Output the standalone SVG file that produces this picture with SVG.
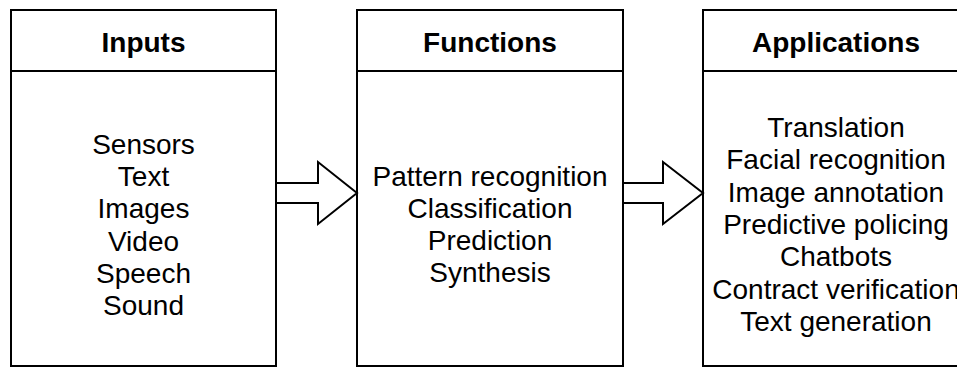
<svg xmlns="http://www.w3.org/2000/svg" width="957" height="377" viewBox="0 0 957 377">
<style>
.box{fill:#fff;stroke:#000;stroke-width:2}
.sep{stroke:#000;stroke-width:2}
.arr{fill:#fff;stroke:#000;stroke-width:2;stroke-linejoin:miter}
.hd{font-family:"Liberation Sans",Arial,Helvetica,sans-serif;font-size:28px;font-weight:bold;fill:#000;text-anchor:middle}
.tx{font-family:"Liberation Sans",Arial,Helvetica,sans-serif;font-size:28px;fill:#000;text-anchor:middle}
</style>
<rect width="957" height="377" fill="#fff"/>
<g id="inputs">
<rect class="box" x="11" y="10" width="265" height="356"/>
<line class="sep" x1="11" y1="71" x2="276" y2="71"/>
<text class="hd" x="143.5" y="52">Inputs</text>
<text class="tx" x="143.5" y="153.5">Sensors</text>
<text class="tx" x="143.5" y="186">Text</text>
<text class="tx" x="143.5" y="218.3">Images</text>
<text class="tx" x="143.5" y="250.6">Video</text>
<text class="tx" x="143.5" y="282.9">Speech</text>
<text class="tx" x="143.5" y="315.2">Sound</text>
</g>
<g id="functions">
<rect class="box" x="357" y="10" width="266" height="356"/>
<line class="sep" x1="357" y1="71" x2="623" y2="71"/>
<text class="hd" x="490" y="52">Functions</text>
<text class="tx" x="490" y="185.5">Pattern recognition</text>
<text class="tx" x="490" y="217.8">Classification</text>
<text class="tx" x="490" y="250.1">Prediction</text>
<text class="tx" x="490" y="282.4">Synthesis</text>
</g>
<g id="applications">
<rect class="box" x="703" y="10" width="266" height="356"/>
<line class="sep" x1="703" y1="71" x2="969" y2="71"/>
<text class="hd" x="836" y="52">Applications</text>
<text class="tx" x="836" y="137">Translation</text>
<text class="tx" x="836" y="169.3">Facial recognition</text>
<text class="tx" x="836" y="201.6">Image annotation</text>
<text class="tx" x="836" y="233.9">Predictive policing</text>
<text class="tx" x="836" y="266.2">Chatbots</text>
<text class="tx" x="836" y="298.5">Contract verification</text>
<text class="tx" x="836" y="330.8">Text generation</text>
</g>
<g id="connectors">
<polygon class="arr" points="276,183 318,183 318,162 357,193 318,224 318,203 276,203"/>
<polygon class="arr" points="623,183 663,183 663,162 703,193 663,224 663,203 623,203"/>
</g>
</svg>
